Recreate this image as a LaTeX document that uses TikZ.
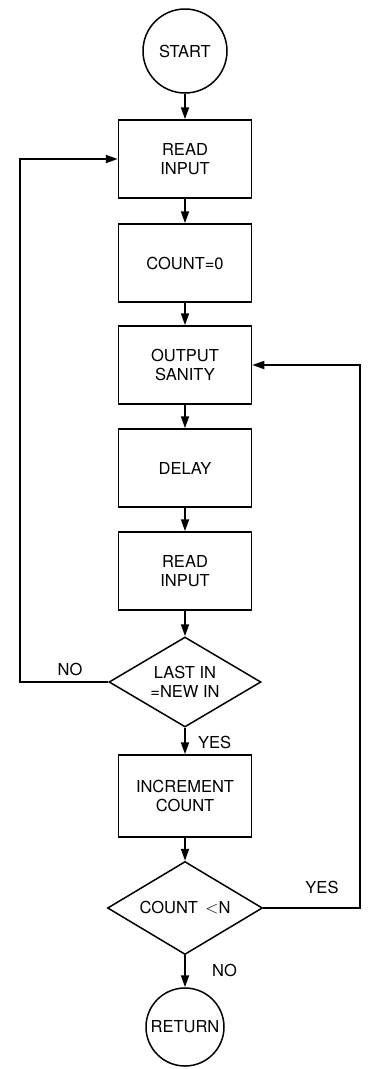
\documentclass[tikz,border=0pt]{standalone}
\usepackage{fontspec}
\setmainfont{TeX Gyre Heros}
\usetikzlibrary{shapes.geometric,arrows.meta}

\tikzset{
  flow/.style={line width=1.8pt, -{Triangle[length=12pt,width=8pt]}},
  term/.style={circle, draw, line width=1.5pt, inner sep=0pt, align=center},
  proc/.style={rectangle, draw, line width=1.5pt, minimum width=133pt, minimum height=78pt, align=center, inner sep=0pt},
  test/.style={diamond, draw, line width=1.5pt, inner sep=-6pt, align=center},
  lbl/.style={inner sep=0pt}
}

\begin{document}
\begin{tikzpicture}[x=1pt, y=-1pt, font=\fontsize{16.5}{19.5}\selectfont]
  \useasboundingbox (0,0) rectangle (369,1069);

  % main column of steps
  \node[term, minimum size=84pt] (start) at (185,51) {START};
  \node[proc] (read1) at (185,159) {READ\\INPUT};
  \node[proc] (zero) at (185,263) {COUNT=0};
  \node[proc] (sanity) at (185,365) {OUTPUT\\SANITY};
  \node[proc] (delay) at (185,468) {DELAY};
  \node[proc] (read2) at (185,571) {READ\\INPUT};
  \node[test, minimum width=152pt, minimum height=90pt] (same) at (185,682) {LAST IN\\=NEW IN};
  \node[proc, minimum height=82pt] (incr) at (185,796) {INCREMENT\\COUNT};
  \node[test, minimum width=155pt, minimum height=93pt] (less) at (185,908) {COUNT \,$<$N};
  \node[term, minimum size=78pt] (ret) at (185,1027) {RETURN};

  % straight-down flow
  \draw[flow] (start) -- (read1);
  \draw[flow] (read1) -- (zero);
  \draw[flow] (zero) -- (sanity);
  \draw[flow] (sanity) -- (delay);
  \draw[flow] (delay) -- (read2);
  \draw[flow] (read2) -- (same);
  \draw[flow] (same) -- (incr);
  \draw[flow] (incr) -- (less);
  \draw[flow] (less) -- (ret);

  % loop back when the input changed
  \coordinate (nl) at (20,682);
  \coordinate (nu) at (20,159);
  \draw[flow] (same.west) -- (nl) -- (nu) -- (read1.west);

  % loop back while the count is below N
  \coordinate (yl) at (360,908);
  \coordinate (yu) at (360,365);
  \draw[flow] (less.east) -- (yl) -- (yu) -- (sanity.east);

  % branch labels
  \node[lbl] (noA) at (70,669) {NO};
  \node[lbl, anchor=west] (yesA) at (198,742) {YES};
  \node[lbl] (yesB) at (322,887) {YES};
  \node[lbl, anchor=west] (noB) at (212,970) {NO};
\end{tikzpicture}
\end{document}
